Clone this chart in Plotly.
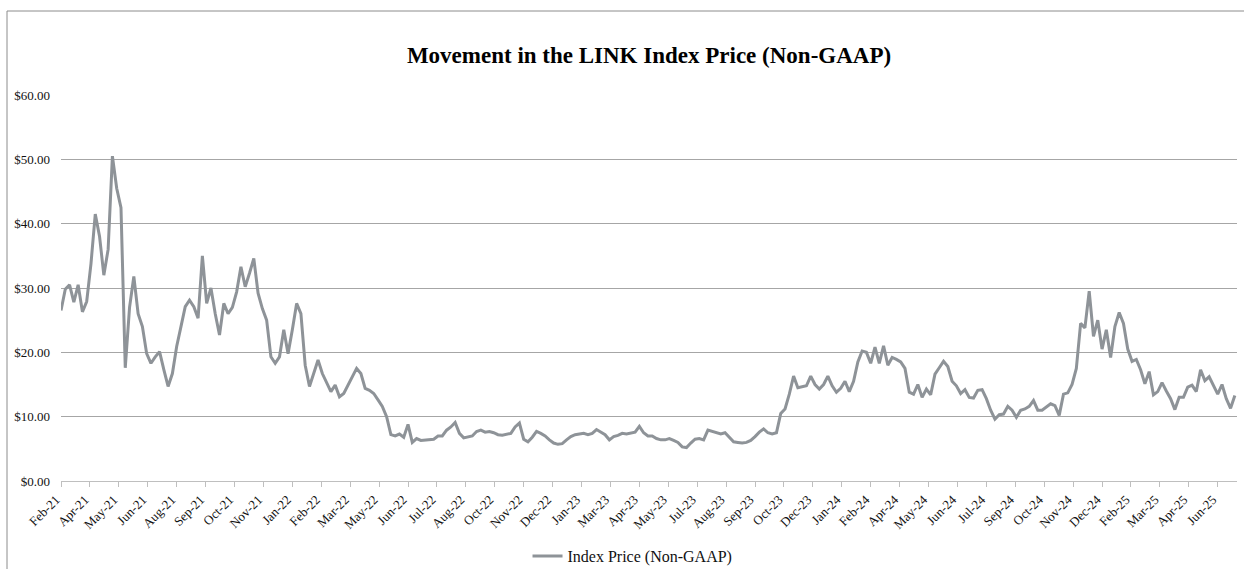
import plotly.graph_objects as go

# ---- data ----
TD_PER_SAMPLE = 4      # trading days between samples
TICK_EVERY = 27        # trading days between axis labels

tick_labels = [
    "Feb-21", "Apr-21", "May-21", "Jun-21", "Aug-21", "Sep-21", "Oct-21", "Nov-21",
    "Jan-22", "Feb-22", "Mar-22", "May-22", "Jun-22", "Jul-22", "Aug-22", "Oct-22",
    "Nov-22", "Dec-22", "Jan-23", "Mar-23", "Apr-23", "May-23", "Jul-23", "Aug-23",
    "Sep-23", "Oct-23", "Dec-23", "Jan-24", "Feb-24", "Apr-24", "May-24", "Jun-24",
    "Jul-24", "Sep-24", "Oct-24", "Nov-24", "Dec-24", "Feb-25", "Mar-25", "Apr-25",
    "Jun-25",
]

index_price = [
    26.5, 29.8, 30.5, 27.8, 30.5, 26.3, 27.9, 33.8, 41.5, 38.0,
    32.0, 36.0, 50.5, 45.5, 42.5, 17.6, 27.0, 31.8, 26.0, 24.0,
    19.8, 18.3, 19.3, 20.1, 17.3, 14.7, 16.7, 20.9, 24.0, 27.1,
    28.1, 27.1, 25.3, 35.0, 27.6, 30.0, 26.0, 22.7, 27.6, 26.0,
    27.0, 29.4, 33.3, 30.2, 32.3, 34.6, 29.2, 26.8, 25.0, 19.3,
    18.3, 19.3, 23.5, 19.8, 23.5, 27.6, 26.0, 18.0, 14.7, 16.7,
    18.8, 16.7, 15.4, 13.9, 14.9, 13.1, 13.6, 14.9, 16.2, 17.5,
    16.7, 14.4, 14.1, 13.6, 12.6, 11.6, 10.0, 7.2, 7.0, 7.3,
    6.8, 8.8, 6.0, 6.6, 6.3, 6.4, 6.4, 6.5, 7.0, 7.0,
    7.9, 8.4, 9.1, 7.4, 6.7, 6.9, 7.0, 7.7, 7.9, 7.6,
    7.7, 7.5, 7.2, 7.1, 7.2, 7.4, 8.4, 9.0, 6.5, 6.1,
    6.8, 7.7, 7.4, 7.0, 6.4, 5.9, 5.7, 5.8, 6.4, 6.9,
    7.2, 7.3, 7.4, 7.2, 7.4, 8.0, 7.6, 7.2, 6.4, 6.9,
    7.1, 7.4, 7.3, 7.4, 7.6, 8.5, 7.5, 7.0, 7.0, 6.6,
    6.4, 6.4, 6.6, 6.3, 6.0, 5.3, 5.2, 5.9, 6.5, 6.6,
    6.4, 7.9, 7.7, 7.5, 7.3, 7.5, 6.8, 6.1, 6.0, 5.9,
    6.0, 6.3, 6.9, 7.6, 8.1, 7.5, 7.3, 7.5, 10.5, 11.2,
    13.5, 16.3, 14.5, 14.6, 14.8, 16.3, 15.0, 14.3, 15.0, 16.3,
    14.8, 13.8, 14.4, 15.5, 13.9, 15.5, 18.5, 20.2, 20.0, 18.3,
    20.8, 18.3, 21.0, 18.0, 19.2, 18.9, 18.5, 17.5, 13.8, 13.5,
    15.0, 13.0, 14.3, 13.4, 16.6, 17.6, 18.6, 17.8, 15.5, 14.8,
    13.6, 14.2, 13.0, 12.9, 14.1, 14.2, 12.8, 11.0, 9.6, 10.3,
    10.4, 11.6, 11.0, 9.9, 11.0, 11.2, 11.6, 12.5, 11.0, 11.0,
    11.5, 12.0, 11.7, 10.2, 13.5, 13.7, 15.0, 17.5, 24.5, 23.8,
    29.5, 22.5, 25.0, 20.5, 23.5, 19.2, 24.0, 26.2, 24.5, 20.5,
    18.6, 18.9, 17.3, 15.1, 17.0, 13.4, 13.9, 15.3, 14.0, 12.8,
    11.1, 13.0, 13.0, 14.6, 14.9, 13.9, 17.3, 15.6, 16.2, 14.8,
    13.5, 15.0, 12.8, 11.3, 13.3,
]

trading_day = [i * TD_PER_SAMPLE for i in range(len(index_price))]
tick_vals = [k * TICK_EVERY for k in range(len(tick_labels))]

SERIF = "Liberation Serif, Times New Roman, serif"
TEXT = "#111111"

fig = go.Figure()
fig.add_trace(go.Scatter(
    x=trading_day, y=index_price, mode="lines",
    name="Index Price (Non-GAAP)",
    line=dict(color="#8e9398", width=3),
))

fig.update_layout(
    width=1244, height=569,
    template="none",
    paper_bgcolor="white", plot_bgcolor="white",
    margin=dict(l=61, r=7, t=95, b=88, pad=0, autoexpand=False),
    font=dict(family=SERIF, size=13, color=TEXT),
    title=dict(
        text="<b>Movement in the LINK Index Price (Non-GAAP)</b>",
        font=dict(family=SERIF, size=23, color="black"),
        x=0.5, xref="paper", xanchor="center",
        y=1 - 55 / 569, yref="container", yanchor="middle",
    ),
    showlegend=True,
    legend=dict(
        orientation="h", x=0.3967, xanchor="left", y=-0.1943, yanchor="middle",
        font=dict(family=SERIF, size=16, color=TEXT),
        bgcolor="rgba(0,0,0,0)",
    ),
    xaxis=dict(
        range=[0, 1098], tickmode="array", tickvals=tick_vals, ticktext=tick_labels,
        tickangle=-45, ticks="outside", ticklen=5, tickcolor="#bfbfbf", tickwidth=1,
        ticklabelshift=-5,
        showline=True, linecolor="#bfbfbf", linewidth=1,
        showgrid=False, zeroline=False, automargin=False,
        tickfont=dict(family=SERIF, size=13, color=TEXT),
    ),
    yaxis=dict(
        range=[0, 60], dtick=10, tick0=0, tickprefix="$", tickformat=".2f",
        showgrid=True, gridcolor="#a6a6a6", gridwidth=1,
        zeroline=False, showline=False, ticks="", automargin=False,
        ticklabelstandoff=10,
        tickfont=dict(family=SERIF, size=13, color=TEXT),
    ),
)

# chart-area border (left and top edges visible in the reference)
fig.add_shape(type="line", xref="paper", yref="paper",
              x0=(7 - 61) / 1176, x1=(7 - 61) / 1176,
              y0=(481 - 11) / 386, y1=(481 - 580) / 386,
              line=dict(color="#8c8c8c", width=1))
fig.add_shape(type="line", xref="paper", yref="paper",
              x0=(7 - 61) / 1176, x1=(1250 - 61) / 1176,
              y0=(481 - 11) / 386, y1=(481 - 11) / 386,
              line=dict(color="#8c8c8c", width=1))

fig.write_html(
    "out.html",
    config={"displayModeBar": False},
    post_script="document.body.style.margin='0';document.body.style.overflow='hidden';",
)
